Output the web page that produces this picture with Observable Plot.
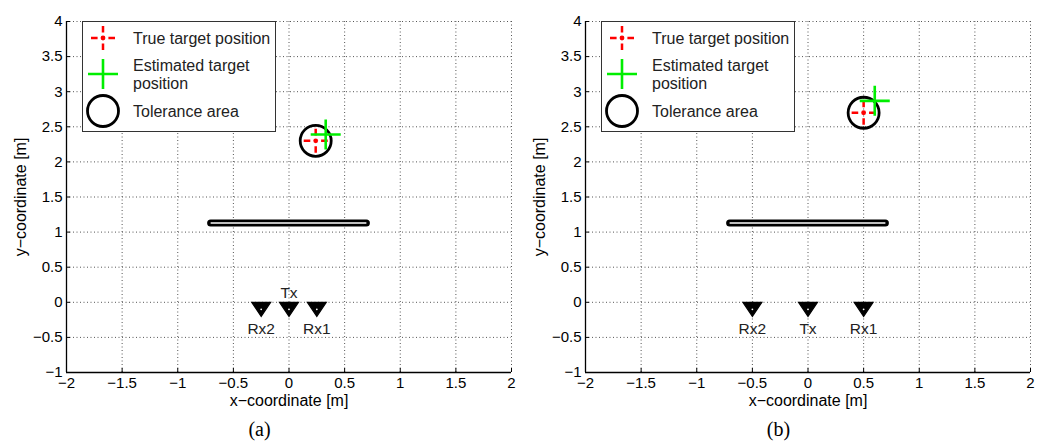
<!DOCTYPE html>
<html>
<head>
<meta charset="utf-8">
<script src="https://cdn.jsdelivr.net/npm/d3@7"></script>
<script src="https://cdn.jsdelivr.net/npm/@observablehq/plot@0.6"></script>
<style>
  html, body { margin: 0; padding: 0; background: #fff; }
  #root { display: flex; width: 1038px; height: 446px; }
  .panel { position: relative; width: 519px; height: 446px; }
  .caption { text-align: center; font-family: "Liberation Serif", "Times New Roman", serif; font-size: 20px; line-height: 34px; height: 34px; color: #000; }
  .legend { position: absolute; }
</style>
</head>
<body>
<div id="root"></div>
<script>
// ---- data ----
const captions = ["(a)", "(b)"];
const xTicks = [-2, -1.5, -1, -0.5, 0, 0.5, 1, 1.5, 2];
const yTicks = [-1, -0.5, 0, 0.5, 1, 1.5, 2, 2.5, 3, 3.5, 4];
const trueX = [0.24, 0.5];
const trueY = [2.3, 2.7];
const estX = [0.33, 0.6];
const estY = [2.39, 2.87];
const wallX1 = [-0.7, -0.7];
const wallX2 = [0.7, 0.7];
const wallY = [1.13, 1.13];
const antennaNames = ["Rx2", "Tx", "Rx1"];
const antennaXa = [-0.25, 0, 0.25];
const antennaXb = [-0.5, 0, 0.5];
const antennaY = -0.1;
const labelAboveA = [false, true, false];
const labelAboveB = [false, false, false];
const legendLabels = ["True target position", "Estimated target position", "Tolerance area"];

// ---- symbols ----
const dashCross = {draw(ctx, size) {
  const r = Math.sqrt(size / Math.PI), g = r * 0.45;
  ctx.moveTo(-r, 0); ctx.lineTo(-g, 0); ctx.moveTo(g, 0); ctx.lineTo(r, 0);
  ctx.moveTo(0, -r); ctx.lineTo(0, -g); ctx.moveTo(0, g); ctx.lineTo(0, r);
}};
const plusCross = {draw(ctx, size) {
  const r = Math.sqrt(size / Math.PI);
  ctx.moveTo(-r, 0); ctx.lineTo(r, 0); ctx.moveTo(0, -r); ctx.lineTo(0, r);
}};
const triDown = {draw(ctx, size) {
  const r = Math.sqrt(size / Math.PI), w = 1.35 * r, h = r;
  ctx.moveTo(-w, -h); ctx.lineTo(w, -h); ctx.lineTo(0, h); ctx.closePath();
}};

const fmt = d => (d < 0 ? "\u2212" : "") + String(Math.abs(d));
const RED = "#ff0000", GREEN = "#00ee00";
const FONT = "'Liberation Sans', Arial, sans-serif";

function makePanel(i) {
  const antX = i === 0 ? antennaXa : antennaXb;
  const above = i === 0 ? labelAboveA : labelAboveB;
  const antennas = antennaNames.map((name, j) => ({name, x: antX[j], y: antennaY, above: above[j]}));
  const wall = [{x1: wallX1[i], x2: wallX2[i], y: wallY[i]}];
  const tgt = [{x: trueX[i], y: trueY[i]}];
  const est = [{x: estX[i], y: estY[i]}];

  const plot = Plot.plot({
    width: 519, height: 412,
    marginLeft: 66, marginRight: 8, marginTop: 21, marginBottom: 40,
    style: {fontFamily: FONT, fontSize: "15px", color: "#000", background: "#fff"},
    x: {domain: [xTicks[0], xTicks[xTicks.length - 1]]},
    y: {domain: [yTicks[0], yTicks[yTicks.length - 1]]},
    marks: [
      Plot.gridX(xTicks, {stroke: "#555", strokeOpacity: 1, strokeWidth: 1, strokeDasharray: "1,2.5"}),
      Plot.gridY(yTicks, {stroke: "#555", strokeOpacity: 1, strokeWidth: 1, strokeDasharray: "1,2.5"}),
      Plot.ruleX([xTicks[0]], {stroke: "#000", strokeWidth: 1.3}),
      Plot.ruleY([yTicks[0]], {stroke: "#000", strokeWidth: 1.3}),
      Plot.axisX(xTicks, {tickSize: -4, tickPadding: 9, tickFormat: fmt, fontSize: 15, label: null}),
      Plot.axisY(yTicks, {tickSize: -4, tickPadding: 8, tickFormat: fmt, fontSize: 15, label: null}),
      Plot.axisX({ticks: [], tickSize: 0, fontSize: 16,
        label: "x\u2212coordinate [m]", labelAnchor: "center", labelArrow: "none", labelOffset: 33}),
      Plot.axisY({ticks: [], tickSize: 0, fontSize: 16,
        label: "y\u2212coordinate [m]", labelAnchor: "center", labelArrow: "none", labelOffset: 52}),
      // wall
      Plot.ruleY(wall, {x1: "x1", x2: "x2", y: "y", stroke: "#000", strokeWidth: 7, strokeLinecap: "round"}),
      Plot.ruleY(wall, {x1: "x1", x2: "x2", y: "y", stroke: "#fff", strokeWidth: 1.5}),
      // antennas
      Plot.dot(antennas, {x: "x", y: "y", symbol: triDown, r: 7, fill: "#000", stroke: "#000", strokeWidth: 1.2}),
      Plot.dot(antennas, {x: "x", y: "y", r: 0.9, fill: "#fff", stroke: "none"}),
      Plot.text(antennas.filter(d => d.above), {x: "x", y: "y", text: "name", dy: -16, fontSize: 15.5, fill: "#222"}),
      Plot.text(antennas.filter(d => !d.above), {x: "x", y: "y", text: "name", dy: 20, fontSize: 15.5, fill: "#222"}),
      // tolerance circle, true and estimated positions
      Plot.dot(tgt, {x: "x", y: "y", r: 15.5, fill: "none", stroke: "#000", strokeWidth: 2.8}),
      Plot.dot(tgt, {x: "x", y: "y", symbol: dashCross, r: 12, fill: "none", stroke: RED, strokeWidth: 2.5}),
      Plot.dot(tgt, {x: "x", y: "y", r: 2.4, fill: RED, stroke: "none"}),
      Plot.dot(est, {x: "x", y: "y", symbol: plusCross, r: 15, fill: "none", stroke: GREEN, strokeWidth: 2.6})
    ]
  });

  const div = document.createElement("div");
  div.className = "panel";
  div.appendChild(plot);

  // legend box
  const lw = 194, lh = 111;
  const svg = d3.create("svg").attr("class", "legend").attr("width", lw).attr("height", lh)
    .style("left", "82px").style("top", "21px")
    .style("font-family", FONT).style("font-size", "16px");
  svg.append("rect").attr("x", 0.5).attr("y", 0.5).attr("width", lw - 1).attr("height", lh - 1)
    .attr("fill", "#fff").attr("stroke", "#333").attr("stroke-width", 1);
  const sym = (s, r) => d3.symbol(s, Math.PI * r * r)();
  // true target icon
  svg.append("path").attr("transform", "translate(21,17)").attr("d", sym(dashCross, 12))
    .attr("fill", "none").attr("stroke", RED).attr("stroke-width", 2.5);
  svg.append("circle").attr("cx", 21).attr("cy", 17).attr("r", 2.4).attr("fill", RED);
  svg.append("text").attr("x", 51).attr("y", 17).attr("dy", "0.35em").attr("fill", "#222").text(legendLabels[0]);
  // estimated icon
  svg.append("path").attr("transform", "translate(21,53)").attr("d", sym(plusCross, 15))
    .attr("fill", "none").attr("stroke", GREEN).attr("stroke-width", 2.6);
  const words = legendLabels[1].split(" ");
  svg.append("text").attr("x", 51).attr("y", 44).attr("dy", "0.35em").attr("fill", "#222").text(words.slice(0, 2).join(" "));
  svg.append("text").attr("x", 51).attr("y", 62).attr("dy", "0.35em").attr("fill", "#222").text(words.slice(2).join(" "));
  // circle icon
  svg.append("circle").attr("cx", 21).attr("cy", 90).attr("r", 15.5).attr("fill", "none")
    .attr("stroke", "#000").attr("stroke-width", 2.8);
  svg.append("text").attr("x", 51).attr("y", 90).attr("dy", "0.35em").attr("fill", "#222").text(legendLabels[2]);
  div.appendChild(svg.node());

  const cap = document.createElement("div");
  cap.className = "caption";
  cap.textContent = captions[i];
  div.appendChild(cap);
  return div;
}

const root = document.getElementById("root");
root.appendChild(makePanel(0));
root.appendChild(makePanel(1));
</script>
</body>
</html>
